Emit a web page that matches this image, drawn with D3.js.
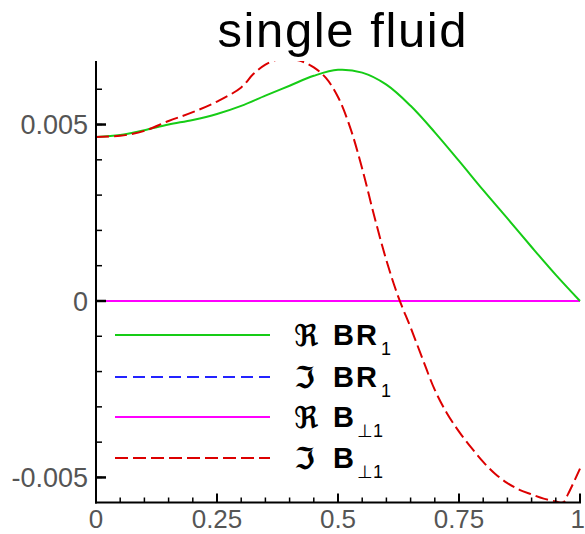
<!DOCTYPE html>
<html>
<head>
<meta charset="utf-8">
<script src="https://cdn.jsdelivr.net/npm/d3@7"></script>
<style>
  html, body { margin: 0; padding: 0; background: #fff; }
  svg { display: block; }
</style>
</head>
<body>
<svg id="chart" width="585" height="534"></svg>
<script>
// Profiles of the first mode, single-fluid run
const title = "single fluid";

// Re BR_1 (solid green)
const reBR1X = [0, 0.05, 0.1, 0.15, 0.2, 0.25, 0.3, 0.35, 0.4, 0.45, 0.5, 0.55, 0.6, 0.65, 0.7, 0.75, 0.8, 0.85, 0.9, 0.95, 1.0];
const reBR1Y = [0.00465, 0.00470, 0.00484, 0.00500, 0.00513, 0.00530, 0.00553, 0.00582, 0.00610, 0.00638, 0.00655, 0.00647, 0.00613, 0.00553, 0.00478, 0.00397, 0.00314, 0.00234, 0.00153, 0.00074, 0.0];

// Im BR_1 (dashed blue) – identically zero
const imBR1X = [0, 1];
const imBR1Y = [0, 0];

// Re B_perp1 (solid magenta) – identically zero
const reBp1X = [0, 1];
const reBp1Y = [0, 0];

// Im B_perp1 (dashed red)
const imBp1X = [0, 0.05, 0.1, 0.15, 0.2, 0.25, 0.3, 0.325, 0.35, 0.375, 0.4, 0.425, 0.45, 0.475, 0.5, 0.525, 0.55, 0.575, 0.6, 0.625, 0.65, 0.675, 0.7, 0.725, 0.75, 0.775, 0.8, 0.825, 0.85, 0.875, 0.9, 0.925, 0.95, 0.965, 0.975, 1.0];
const imBp1Y = [0.00465, 0.00468, 0.00482, 0.00510, 0.00535, 0.00565, 0.00605, 0.00643, 0.00670, 0.00684, 0.00686, 0.00679, 0.00662, 0.00632, 0.00578, 0.00492, 0.00375, 0.00240, 0.00115, 0.00010, -0.00075, -0.00165, -0.00252, -0.00318, -0.00370, -0.00415, -0.00456, -0.00490, -0.00516, -0.00535, -0.00548, -0.00560, -0.00568, -0.00571, -0.00548, -0.00475];

// Axis ticks
const xMajorTicks = [0, 0.25, 0.5, 0.75, 1];
const xTickLabels = ["0", "0.25", "0.5", "0.75", "1"];
const xMinorTicks = d3.range(0, 1.0001, 0.05);
const yMajorTicks = [-0.005, 0, 0.005];
const yTickLabels = ["-0.005", "0", "0.005"];
const yMinorTicks = d3.range(-0.005, 0.00601, 0.001);

// Legend entries
const legendSymbols = ["\u211C", "\u2111", "\u211C", "\u2111"];
const legendMain = ["BR", "BR", "B", "B"];
const legendSubs = ["1", "1", "\u22A51", "\u22A51"];

const series = [
  { x: reBR1X, y: reBR1Y, color: "#16cc16", dash: null },
  { x: imBR1X, y: imBR1Y, color: "#2323ff", dash: "12,6" },
  { x: reBp1X, y: reBp1Y, color: "#ff00ff", dash: null },
  { x: imBp1X, y: imBp1Y, color: "#dc0000", dash: "13,5" }
];

const svg = d3.select("#chart");
const x = d3.scaleLinear().domain([0, 1]).range([96, 580]);
const y = d3.scaleLinear().domain([-0.00571, 0.0068]).range([502.5, 61]);

svg.append("defs").append("clipPath").attr("id", "plotclip")
  .append("rect")
  .attr("x", x(0)).attr("y", y(0.0068))
  .attr("width", x(1) - x(0) + 1).attr("height", y(-0.00571) - y(0.0068));

// Title
svg.append("text")
  .attr("x", 342).attr("y", 47)
  .attr("text-anchor", "middle")
  .attr("font-family", "Liberation Sans, Arial, sans-serif")
  .attr("font-size", 49)
  .attr("textLength", 249)
  .attr("lengthAdjust", "spacing")
  .attr("fill", "#000")
  .text(title);

// Curves (blue drawn beneath magenta, both lie on zero)
const line = d3.line().x(d => x(d[0])).y(d => y(d[1])).curve(d3.curveCatmullRom.alpha(0.5));
const drawOrder = [1, 2, 0, 3];
const gLines = svg.append("g").attr("clip-path", "url(#plotclip)");
drawOrder.forEach(i => {
  const s = series[i];
  gLines.append("path")
    .datum(s.x.map((v, k) => [v, s.y[k]]))
    .attr("d", line)
    .attr("fill", "none")
    .attr("stroke", s.color)
    .attr("stroke-width", 2)
    .attr("stroke-dasharray", s.dash);
});

// Legend
const legendRows = [335, 377, 417, 458];
const legend = svg.append("g");
legendRows.forEach((ry, i) => {
  const s = series[i];
  legend.append("line")
    .attr("x1", 115).attr("x2", 270)
    .attr("y1", ry).attr("y2", ry)
    .attr("stroke", s.color)
    .attr("stroke-width", 2)
    .attr("stroke-dasharray", s.dash);
  legend.append("text")
    .attr("x", 294).attr("y", ry + 11)
    .attr("font-family", "DejaVu Sans, sans-serif")
    .attr("font-weight", "bold")
    .attr("font-size", 30)
    .attr("fill", "#000")
    .text(legendSymbols[i]);
  const t = legend.append("text")
    .attr("x", 333).attr("y", ry + 10)
    .attr("font-family", "Liberation Sans, Arial, sans-serif")
    .attr("font-weight", "bold")
    .attr("font-size", 29)
    .attr("fill", "#000");
  t.append("tspan").attr("letter-spacing", 2).text(legendMain[i]);
  t.append("tspan")
    .attr("dx", i < 2 ? 2 : 1)
    .attr("dy", 10)
    .attr("font-size", 18)
    .attr("font-weight", "normal")
    .text(legendSubs[i]);
});

// Axes
const axisColor = "#000";
const ax = svg.append("g");
ax.append("line").attr("x1", x(0)).attr("x2", x(0)).attr("y1", y(0.0068)).attr("y2", y(-0.00571) + 1)
  .attr("stroke", axisColor).attr("stroke-width", 2);
ax.append("line").attr("x1", x(0) - 1).attr("x2", x(1) + 1).attr("y1", y(-0.00571)).attr("y2", y(-0.00571))
  .attr("stroke", axisColor).attr("stroke-width", 2);

// x ticks (pointing up into the plot)
ax.selectAll(".xminor").data(xMinorTicks).join("line")
  .attr("x1", d => x(d)).attr("x2", d => x(d))
  .attr("y1", y(-0.00571)).attr("y2", y(-0.00571) - 5)
  .attr("stroke", axisColor).attr("stroke-width", 1.5);
ax.selectAll(".xmajor").data(xMajorTicks).join("line")
  .attr("x1", d => x(d)).attr("x2", d => x(d))
  .attr("y1", y(-0.00571)).attr("y2", y(-0.00571) - 9)
  .attr("stroke", axisColor).attr("stroke-width", 2);
// the last label sits against the right edge, so it is right-aligned there
ax.selectAll(".xlab").data(xMajorTicks).join("text")
  .attr("x", (d, i) => i === xMajorTicks.length - 1 ? 585 : x(d)).attr("y", 528)
  .attr("text-anchor", (d, i) => i === xMajorTicks.length - 1 ? "end" : "middle")
  .attr("font-family", "Liberation Sans, Arial, sans-serif")
  .attr("font-size", 26)
  .attr("fill", "#555")
  .text((d, i) => xTickLabels[i]);

// y ticks (pointing right into the plot)
ax.selectAll(".yminor").data(yMinorTicks).join("line")
  .attr("x1", x(0)).attr("x2", x(0) + 6)
  .attr("y1", d => y(d)).attr("y2", d => y(d))
  .attr("stroke", axisColor).attr("stroke-width", 1.5);
ax.selectAll(".ymajor").data(yMajorTicks).join("line")
  .attr("x1", x(0)).attr("x2", x(0) + 10)
  .attr("y1", d => y(d)).attr("y2", d => y(d))
  .attr("stroke", axisColor).attr("stroke-width", 2.5);
ax.selectAll(".ylab").data(yMajorTicks).join("text")
  .attr("x", 88).attr("y", d => y(d))
  .attr("dy", "0.36em")
  .attr("text-anchor", "end")
  .attr("font-family", "Liberation Sans, Arial, sans-serif")
  .attr("font-size", 27)
  .attr("fill", "#555")
  .text((d, i) => yTickLabels[i]);
</script>
</body>
</html>
